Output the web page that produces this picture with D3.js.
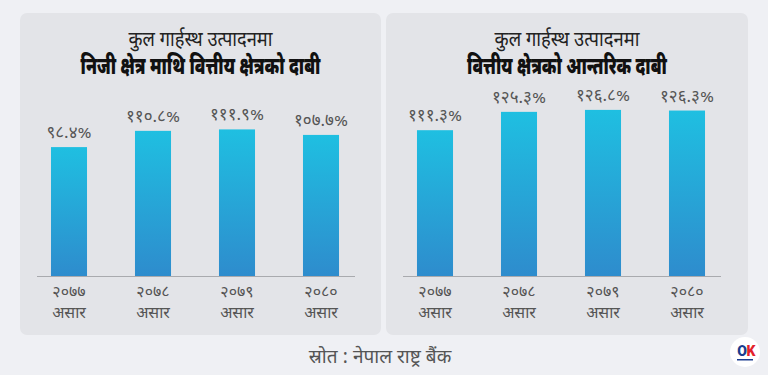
<!DOCTYPE html>
<html><head><meta charset="utf-8">
<script src="https://cdn.jsdelivr.net/npm/d3@7"></script>
<style>
html,body{margin:0;padding:0;background:#eff0f4;}
svg{display:block;}
</style></head>
<body>
<svg id="c" width="768" height="375"></svg>
<script>
const categories = ["२०७७", "२०७८", "२०७९", "२०८०"];
const month = "असार";
const leftValues = [98.4, 110.8, 111.9, 107.7];
const rightValues = [111.3, 125.3, 126.8, 126.3];
const titleTop = "कुल गार्हस्थ उत्पादनमा";
const leftTitle = "निजी क्षेत्र माथि वित्तीय क्षेत्रको दाबी";
const rightTitle = "वित्तीय क्षेत्रको आन्तरिक दाबी";
const source = "स्रोत : नेपाल राष्ट्र बैंक";

const devDigits = "०१२३४५६७८९";
const toDev = s => String(s).replace(/[0-9]/g, d => devDigits[+d]);
const fmt = v => toDev(v.toFixed(1)) + "%";

const FONT = "'Noto Sans Devanagari','Noto Sans',sans-serif";
const svg = d3.select("#c");
const defs = svg.append("defs");
const grad = defs.append("linearGradient").attr("id","bg").attr("x1",0).attr("y1",0).attr("x2",0).attr("y2",1);
grad.append("stop").attr("offset","0%").attr("stop-color","#1fbfe1");
grad.append("stop").attr("offset","100%").attr("stop-color","#2e8ccd");

const y = d3.scaleLinear().domain([0, 140]).range([276, 276 - 140*1.31]);

function condensedText(g, cx, yy, txt, size, weight, fill, width) {
  const t = g.append("g").attr("transform", `translate(${cx},${yy})`)
    .append("text").attr("text-anchor","middle").attr("font-family", FONT)
    .attr("font-size", size).attr("font-weight", weight).attr("fill", fill).text(txt);
  const w = t.node().getComputedTextLength();
  t.attr("transform", `scale(${width / w},1)`);
}

function panel(x0, x1, values, title2, t1w, t2w) {
  const g = svg.append("g");
  g.append("rect").attr("x", x0).attr("y", 13).attr("width", x1 - x0).attr("height", 322)
    .attr("rx", 7).attr("fill", "#e3e4e8");
  const cx = (x0 + x1) / 2;
  condensedText(g, cx, 46, titleTop, 21, "normal", "#222", t1w);
  condensedText(g, cx, 74, title2, 24, "900", "#111", t2w);
  const x = d3.scaleBand().domain(categories).range([x0 + 7, x0 + 343]).paddingInner(0.571).paddingOuter(0.2855);
  g.append("line").attr("x1", x0 + 17).attr("x2", x0 + 335).attr("y1", y(0) + 0.5).attr("y2", y(0) + 0.5)
    .attr("stroke", "#a9aaae").attr("stroke-width", 1);
  g.selectAll("rect.bar").data(values).join("rect").attr("class","bar")
    .attr("x", (d,i) => x(categories[i])).attr("width", x.bandwidth())
    .attr("y", d => y(d)).attr("height", d => y(0) - y(d)).attr("fill","url(#bg)");
  g.selectAll("text.val").data(values).join("text").attr("class","val")
    .attr("x", (d,i) => x(categories[i]) + x.bandwidth()/2).attr("y", d => y(d) - 9)
    .attr("text-anchor","middle").attr("font-family", FONT).attr("font-size", 17).attr("fill","#555")
    .text(d => fmt(d));
  const cxs = d => x(d) + x.bandwidth()/2;
  g.selectAll("text.cat").data(categories).join("text").attr("class","cat")
    .attr("x", cxs).attr("y", 297)
    .attr("text-anchor","middle").attr("font-family", FONT).attr("font-size", 16).attr("fill","#555").text(d => d);
  g.selectAll("text.mon").data(categories).join("text").attr("class","mon")
    .attr("x", cxs).attr("y", 318)
    .attr("text-anchor","middle").attr("font-family", FONT).attr("font-size", 16).attr("fill","#555").text(month);
}
panel(20, 381, leftValues, leftTitle, 144, 240);
panel(386, 748, rightValues, rightTitle, 145, 200);

svg.append("text").attr("x", 380).attr("y", 363).attr("text-anchor","middle")
  .attr("font-family", FONT).attr("font-size", 19).attr("fill","#555").text(source);

const logo = svg.append("g").attr("transform","translate(745,352)");
logo.append("circle").attr("r", 15).attr("fill","#fff");
logo.append("text").attr("x",-3).attr("y",4).attr("text-anchor","middle").attr("font-family","Roboto,sans-serif")
  .attr("font-weight","900").attr("font-size",14).attr("fill","#1a3d8f").text("O");
logo.append("text").attr("x",6).attr("y",4).attr("text-anchor","middle").attr("font-family","Roboto,sans-serif")
  .attr("font-weight","900").attr("font-size",14).attr("fill","#e3222b").text("K");
logo.append("rect").attr("x",-8).attr("y",7).attr("width",16).attr("height",1.5).attr("fill","#1a3d8f");
</script>
</body></html>
